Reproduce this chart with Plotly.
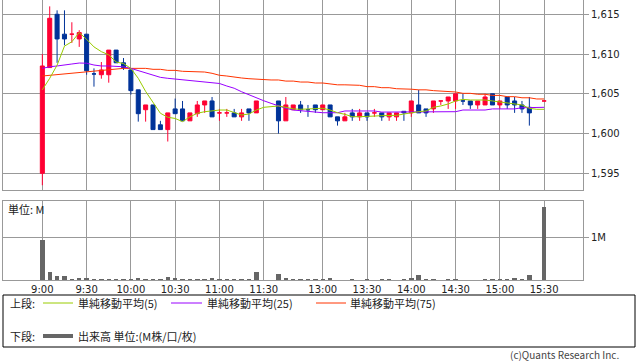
import plotly.graph_objects as go

# ---------------- data ----------------
tick_labels = ["9:00", "9:30", "10:00", "10:30", "11:00", "11:30",
               "13:00", "13:30", "14:00", "14:30", "15:00", "15:30"]
tick_index = [0, 6, 12, 18, 24, 30, 38, 44, 50, 56, 62, 68]
bar_index = list(range(69))

opens = [1595.0, 1608.3, 1615.0, 1612.5, 1612.5, 1611.9, 1612.5, 1607.5, 1607.4, 1607.4,
         1610.5, 1608.9, 1608.0, 1605.5, 1603.0, 1603.6, 1601.1, 1600.5, 1603.1, 1603.1,
         1601.6, 1602.5, 1603.6, 1604.1, 1602.6, 1602.6, 1602.6, 1602.1, 1603.1, 1602.6,
         None, None, 1604.1, 1601.6, 1603.0, 1603.6, 1603.0, 1603.6, 1603.0, 1603.6,
         1602.1, 1601.6, 1602.6, 1602.1, 1602.6, 1602.6, 1602.6, 1602.1, 1602.1, 1602.8,
         1602.6, 1603.6, 1603.1, 1603.1, 1604.1, 1604.1, 1604.1, 1604.1, 1604.1, 1603.6,
         1603.6, 1605.0, 1603.6, 1604.6, 1604.1, 1603.6, 1603.3, None, 1604.1]
highs = [1610.0, 1616.0, 1615.5, 1615.5, 1614.0, 1613.0, 1612.5, 1608.2, 1609.0, 1610.5,
         1610.5, 1609.5, 1608.0, 1605.5, 1603.6, 1603.6, 1601.6, 1602.6, 1604.4, 1604.1,
         1602.6, 1604.1, 1604.1, 1604.6, 1603.1, 1603.1, 1603.1, 1603.1, 1603.1, 1604.1,
         None, None, 1604.1, 1604.6, 1603.6, 1604.1, 1603.6, 1603.6, 1603.6, 1603.6,
         1602.1, 1602.6, 1603.1, 1603.1, 1602.6, 1603.1, 1602.6, 1602.6, 1602.6, 1602.8,
         1604.1, 1605.5, 1603.1, 1604.1, 1604.1, 1604.6, 1605.0, 1605.0, 1604.1, 1604.1,
         1605.0, 1605.0, 1604.1, 1604.6, 1604.6, 1604.1, 1604.6, None, 1604.1]
lows = [1593.5, 1608.3, 1608.9, 1611.1, 1611.4, 1610.9, 1607.4, 1605.9, 1606.9, 1606.4,
        1608.9, 1608.0, 1604.9, 1601.5, 1601.5, 1600.5, 1600.5, 1599.0, 1602.5, 1601.6,
        1601.6, 1602.1, 1602.6, 1602.1, 1601.6, 1602.1, 1602.1, 1601.6, 1601.6, 1602.6,
        None, None, 1600.0, 1601.6, 1603.0, 1602.6, 1602.1, 1602.6, 1603.0, 1602.1,
        1601.0, 1601.6, 1601.6, 1601.6, 1601.6, 1602.1, 1601.6, 1601.6, 1601.6, 1601.6,
        1602.1, 1602.6, 1602.1, 1602.6, 1603.6, 1603.1, 1603.1, 1603.6, 1603.1, 1603.1,
        1603.6, 1603.6, 1603.1, 1603.1, 1602.6, 1602.6, 1601.0, None, 1604.1]
closes = [1608.5, 1614.5, 1611.9, 1611.9, 1612.5, 1612.7, 1607.9, 1607.5, 1608.0, 1610.5,
          1608.9, 1608.3, 1605.4, 1602.5, 1603.6, 1600.5, 1600.5, 1602.6, 1602.5, 1601.6,
          1602.6, 1603.6, 1604.1, 1602.1, 1602.6, 1602.6, 1602.1, 1602.6, 1602.6, 1604.1,
          None, None, 1601.6, 1603.6, 1603.6, 1603.0, 1603.0, 1603.0, 1603.6, 1602.1,
          1601.6, 1602.1, 1602.1, 1602.6, 1602.1, 1602.6, 1602.1, 1602.6, 1602.6, 1602.6,
          1604.1, 1602.6, 1602.6, 1604.1, 1604.1, 1604.6, 1605.0, 1604.1, 1603.6, 1604.1,
          1604.6, 1603.6, 1604.1, 1603.6, 1603.6, 1603.1, 1602.6, None, 1604.1]

ma5 = [1605.5, 1606.95, 1608.6, 1611.0, 1611.55, 1612.7, 1611.85, 1610.9, 1610.3, 1609.9,
       1609.0, 1608.8, 1608.2, 1606.95, 1605.3, 1604.0, 1602.55, 1602.05, 1601.9, 1601.5,
       1602.1, 1602.55, 1602.75, 1602.85, 1602.96, 1602.96, 1602.62, 1602.33, 1602.46, 1602.96,
       1603.3, 1603.4, 1603.47, 1603.3, 1603.1, 1603.05, 1603.1, 1603.18, 1603.18, 1602.96,
       1602.62, 1602.42, 1602.12, 1602.12, 1602.12, 1602.2, 1602.25, 1602.25, 1602.29, 1602.46,
       1602.62, 1602.75, 1602.84, 1603.3, 1603.47, 1603.72, 1604.1, 1604.3, 1604.22, 1604.22,
       1604.22, 1604.1, 1603.97, 1603.88, 1603.8, 1603.6, 1603.18, 1603.05, 1603.05]
ma25 = [1608.2, 1608.4, 1608.5, 1608.58, 1608.75, 1608.87, 1608.85, 1608.62, 1608.5, 1608.5,
        1608.45, 1608.4, 1608.2, 1607.9, 1607.65, 1607.36, 1607.07, 1606.95, 1606.86, 1606.73,
        1606.65, 1606.6, 1606.52, 1606.45, 1606.3, 1605.98, 1605.7, 1605.26, 1604.85, 1604.5,
        1604.13, 1603.8, 1603.47, 1603.18, 1602.96, 1602.87, 1602.84, 1602.67, 1602.62, 1602.62,
        1602.62, 1602.84, 1602.84, 1602.84, 1602.84, 1602.84, 1602.7, 1602.7, 1602.7, 1602.7,
        1602.7, 1602.75, 1602.75, 1602.75, 1602.75, 1602.75, 1602.75, 1602.96, 1602.96, 1602.96,
        1602.96, 1603.1, 1603.1, 1603.1, 1603.1, 1603.25, 1603.25, 1603.3, 1603.3]
ma75 = [1607.24, 1607.33, 1607.4, 1607.5, 1607.58, 1607.7, 1607.78, 1607.87, 1607.9, 1608.0,
        1608.12, 1608.2, 1608.2, 1608.2, 1608.2, 1608.08, 1608.08, 1607.95, 1607.95, 1607.83,
        1607.83, 1607.74, 1607.74, 1607.58, 1607.33, 1607.24, 1607.07, 1606.99, 1606.9, 1606.82,
        1606.82, 1606.74, 1606.74, 1606.6, 1606.6, 1606.48, 1606.48, 1606.36, 1606.36, 1606.23,
        1606.13, 1606.13, 1606.07, 1606.07, 1605.9, 1605.9, 1605.77, 1605.77, 1605.64, 1605.64,
        1605.58, 1605.5, 1605.5, 1605.4, 1605.35, 1605.23, 1605.23, 1605.06, 1605.06, 1604.94,
        1604.94, 1604.8, 1604.8, 1604.64, 1604.64, 1604.5, 1604.5, 1604.35, 1604.35]

volume_m = [0.94, 0.19, 0.09, 0.09, 0.02, 0.04, 0.04, 0.02, 0.02, 0.02,
            0.02, 0.015, 0.02, 0.04, 0.02, 0.02, 0.02, 0.06, 0.04, 0.02,
            0.015, 0.02, 0.02, 0.04, 0.015, 0.015, 0.02, 0.015, 0.02, 0.19,
            None, None, 0.14, 0.04, 0.02, 0.02, 0.02, 0.02, 0.02, 0.04,
            0.008, 0.008, 0.02, 0.008, 0.02, 0.008, 0.02, 0.02, 0.008, 0.02,
            0.04, 0.12, 0.02, 0.02, 0.008, 0.02, 0.02, 0.008, 0.008, 0.008,
            0.02, 0.02, 0.02, 0.02, 0.04, 0.02, 0.12, None, 1.71]

price_ticks = [1595, 1600, 1605, 1610, 1615]
price_tick_text = ["1,595", "1,600", "1,605", "1,610", "1,615"]

# ---------------- style ----------------
UP = "#ff0033"
DOWN = "#003399"
C_MA5 = "#99cc00"
C_MA25 = "#9900ff"
C_MA75 = "#ff3300"
C_VOL = "#666666"
GRID = "#999999"
TXT = "#222222"
FONT = "DejaVu Sans"
JFONT = "Noto Sans CJK JP"

W, H = 638, 362
L, R, T, B = 3, 55, 0, 82
PW, PH = W - L - R, H - T - B


def px(x):
    return (x - L) / PW


def py(y):
    return 1 - (y - T) / PH


fig = go.Figure()
fig.add_trace(go.Candlestick(
    x=bar_index, open=opens, high=highs, low=lows, close=closes,
    increasing=dict(line=dict(color=UP, width=1), fillcolor=UP),
    decreasing=dict(line=dict(color=DOWN, width=1), fillcolor=DOWN),
    whiskerwidth=0, xaxis="x", yaxis="y", showlegend=False, hoverinfo="skip"))
for vals, col in ((ma75, C_MA75), (ma25, C_MA25), (ma5, C_MA5)):
    fig.add_trace(go.Scatter(x=bar_index, y=vals, mode="lines",
                             line=dict(color=col, width=1),
                             xaxis="x", yaxis="y", showlegend=False, hoverinfo="skip"))
fig.add_trace(go.Bar(x=bar_index, y=volume_m, marker=dict(color=C_VOL, line=dict(width=0)),
                     width=0.6, xaxis="x2", yaxis="y2", showlegend=False, hoverinfo="skip"))

xr = [-5.33, 73.27]
common_x = dict(range=xr, tickvals=tick_index, ticktext=tick_labels, showgrid=True,
                gridcolor=GRID, gridwidth=1, zeroline=False, showline=True,
                linecolor=GRID, linewidth=1, fixedrange=True)

fig.update_layout(
    width=W, height=H, margin=dict(l=L, r=R, t=T, b=B),
    paper_bgcolor="white", plot_bgcolor="white",
    boxgap=0.22, bargap=0, showlegend=False,
    font=dict(family=FONT, size=10, color=TXT),
    xaxis=dict(**common_x, domain=[0, 1], anchor="y", showticklabels=False,
               rangeslider=dict(visible=False), mirror=False),
    yaxis=dict(domain=[py(190), 1], range=[1592.9, 1616.8], side="right",
               tickvals=price_ticks, ticktext=price_tick_text,
               ticks="outside", ticklen=5, tickcolor=GRID,
               showgrid=True, gridcolor=GRID, zeroline=False,
               showline=True, mirror=True, linecolor=GRID, fixedrange=True,
               tickfont=dict(family=FONT, size=10, color=TXT)),
    xaxis2=dict(**common_x, domain=[0, 1], anchor="y2", matches="x", mirror=True,
                showticklabels=True, ticks="", tickfont=dict(family=FONT, size=10, color=TXT)),
    yaxis2=dict(domain=[0, py(201)], range=[0, 1.85], side="right",
                tickvals=[1], ticktext=["1M"], ticks="outside", ticklen=5, tickcolor=GRID,
                showgrid=True, gridcolor=GRID, zeroline=False,
                showline=True, mirror=True, linecolor=GRID, fixedrange=True,
                tickfont=dict(family=FONT, size=10, color=TXT)),
)

shapes = [
    dict(type="rect", xref="paper", yref="paper", x0=px(3), x1=px(635), y0=py(295), y1=py(347),
         line=dict(color="#000000", width=1), fillcolor="rgba(0,0,0,0)"),
    dict(type="line", xref="paper", yref="paper", x0=px(43), x1=px(73), y0=py(303), y1=py(303),
         line=dict(color=C_MA5, width=1)),
    dict(type="line", xref="paper", yref="paper", x0=px(171), x1=px(202), y0=py(303), y1=py(303),
         line=dict(color=C_MA25, width=1)),
    dict(type="line", xref="paper", yref="paper", x0=px(316), x1=px(346), y0=py(303), y1=py(303),
         line=dict(color=C_MA75, width=1)),
    dict(type="line", xref="paper", yref="paper", x0=px(43), x1=px(73), y0=py(336), y1=py(336),
         line=dict(color=C_VOL, width=4)),
]
fig.update_layout(shapes=shapes)


def ann(text, x, y, size=11, anchor="left", color=TXT, family=JFONT):
    return dict(text=text, xref="paper", yref="paper", x=px(x), y=py(y),
                xanchor=anchor, yanchor="middle", showarrow=False,
                font=dict(family=family, size=size, color=color))


fig.update_layout(annotations=[
    ann("単位: M", 6, 209),
    ann("上段:", 8, 303),
    ann("単純移動平均(5)", 76, 303),
    ann("単純移動平均(25)", 205, 303),
    ann("単純移動平均(75)", 348, 303),
    ann("下段:", 8, 336),
    ann("出来高 単位:(M株/口/枚)", 76, 336),
    ann("(c)Quants Research Inc.", 621, 354.5, size=10, anchor="right", color="#444444"),
])

fig.write_html("out.html", config={"displayModeBar": False, "staticPlot": True},
               post_script="document.body.style.margin='0';document.body.style.overflow='hidden';")
